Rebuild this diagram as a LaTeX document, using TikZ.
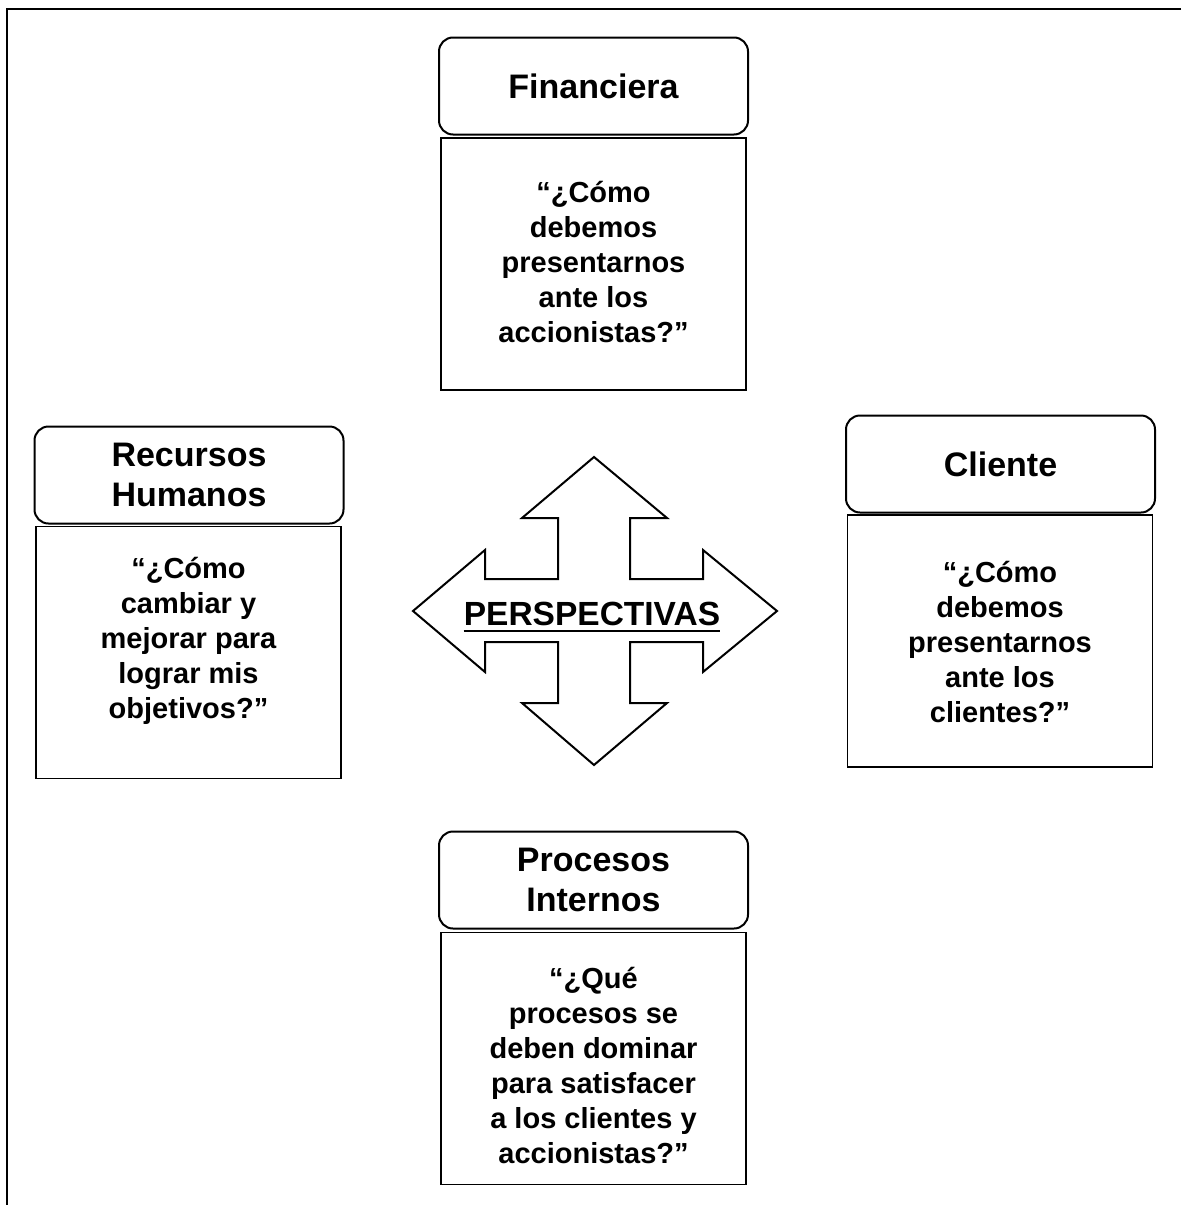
\documentclass[tikz,border=0pt]{standalone}
\usepackage{fontspec}
\setmainfont{Liberation Sans}
\usetikzlibrary{calc}
\tikzset{
  headbox/.style={draw, line width=2pt, rounded corners=14pt, minimum width=309pt,
    minimum height=97pt, inner sep=0pt, align=center,
    font=\bfseries\fontsize{34}{40}\selectfont},
  bodybox/.style={draw, line width=1.5pt, minimum width=305pt, minimum height=252pt, inner sep=0pt},
  qtext/.style={align=center, inner sep=0pt, font=\bfseries\fontsize{29}{35}\selectfont},
  frameline/.style={line width=2.5pt},
  crossarrow/.style={draw, line width=2pt, line join=miter, fill=white}
}
\begin{document}
\begin{tikzpicture}[x=1pt, y=-1pt]
  \useasboundingbox (0,0) rectangle (1181,1205);
  % page frame (top and left edges)
  \draw[frameline] (1181,9) -- (7,9) -- (7,1205);

  % Financiera
  \node[headbox] (finH) at (593.5,86) {Financiera};
  \node[bodybox] (finB) at (593.5,264) {};
  \node[qtext] (finT) at (593.5,262) {“¿Cómo\\debemos\\presentarnos\\ante los\\accionistas?”};

  % Recursos Humanos
  \node[headbox] (rhH) at (189,475) {Recursos\\Humanos};
  \node[bodybox] (rhB) at (188.5,652.5) {};
  \node[qtext] (rhT) at (188.5,641) {“¿Cómo\\cambiar y\\mejorar para\\lograr mis\\objetivos?”};

  % Cliente
  \node[headbox] (clH) at (1000.5,464) {Cliente};
  \node[bodybox] (clB) at (1000,641) {};
  \node[qtext] (clT) at (1000,642) {“¿Cómo\\debemos\\presentarnos\\ante los\\clientes?”};

  % Procesos Internos
  \node[headbox] (piH) at (593.5,880) {Procesos\\Internos};
  \node[bodybox] (piB) at (593.5,1058.5) {};
  \node[qtext] (piT) at (593.5,1065) {“¿Qué\\procesos se\\deben dominar\\para satisfacer\\a los clientes y\\accionistas?”};

  % four-way arrow
  \draw[crossarrow]
    (594,457) -- (667,518) -- (630,518) -- (630,579) -- (703,579) -- (703,550)
    -- (777,611) -- (703,672) -- (703,642) -- (630,642) -- (630,703) -- (667,703)
    -- (594,765) -- (522,703) -- (558,703) -- (558,642) -- (485,642) -- (485,672)
    -- (413,611) -- (485,550) -- (485,579) -- (558,579) -- (558,518) -- (522,518)
    -- cycle;
  \node[anchor=base, inner sep=0pt, font=\bfseries\fontsize{33.5}{40}\selectfont]
    (persp) at (592,625) {PERSPECTIVAS};
  \draw[line width=2pt] ($(persp.base west)+(0,6)$) -- ($(persp.base east)+(0,6)$);
\end{tikzpicture}
\end{document}
